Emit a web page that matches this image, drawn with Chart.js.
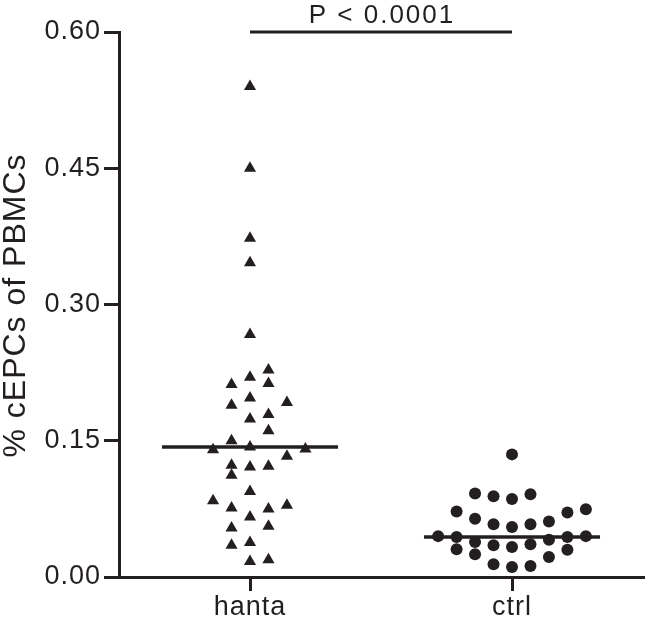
<!DOCTYPE html>
<html>
<head>
<meta charset="utf-8">
<script src="https://cdn.jsdelivr.net/npm/chart.js@4.4.1/dist/chart.umd.min.js"></script>
<style>
  html, body { margin: 0; padding: 0; background: #fff; }
</style>
</head>
<body>
<canvas id="dotChart" width="650" height="620"></canvas>
<script>
// Dot plot — % cEPCs of PBMCs, hanta vs ctrl

const categories = ['hanta', 'ctrl'];
const yTicks = [0, 0.15, 0.30, 0.45, 0.60];

// hanta patients (triangles) and the swarm column each point sits in
const hantaValues = [0.540, 0.450, 0.373, 0.346, 0.267,
  0.228, 0.220, 0.212, 0.213, 0.197, 0.189, 0.192, 0.174, 0.179, 0.161,
  0.150, 0.140, 0.143, 0.141, 0.133, 0.123, 0.121, 0.122, 0.112, 0.094,
  0.084, 0.076, 0.075, 0.079, 0.066, 0.054, 0.056, 0.035, 0.038, 0.017, 0.019];
const hantaSlots = [0, 0, 0, 0, 0,
  1, 0, -1, 1, 0, -1, 2, 0, 1, 1,
  -1, -2, 0, 3, 2, -1, 0, 1, -1, 0,
  -2, -1, 1, 2, 0, -1, 1, -1, 0, 0, 1];

// controls (circles)
const ctrlValues = [0.135, 0.092, 0.089, 0.086, 0.091, 0.072, 0.071, 0.0745,
  0.064, 0.058, 0.055, 0.058, 0.061, 0.045, 0.044, 0.0385, 0.035, 0.033,
  0.036, 0.041, 0.044, 0.045, 0.0305, 0.025, 0.030, 0.022, 0.014, 0.011, 0.012];
const ctrlSlots = [0, -2, -1, 0, 1, -3, 3, 4,
  -2, -1, 0, 1, 2, -4, -3, -2, -1, 0,
  1, 2, 3, 4, -3, -2, 3, 2, -1, 0, 1];

const medians = [0.143, 0.044];
const pLabel = 'P < 0.0001';

const INK = '#231f20';
const SLOT = 0.0705;       // swarm column step, in category units
const MEDIAN_HALF = 0.336; // half length of median bar
const FONT = '"Liberation Sans", Arial, sans-serif';

function toPoints(values, slots, cat) {
  return values.map((v, i) => ({ x: cat + slots[i] * SLOT, y: v }));
}

function medianLine(cat) {
  return [{ x: cat - MEDIAN_HALF, y: medians[cat] }, { x: cat + MEDIAN_HALF, y: medians[cat] }];
}

// slightly loose letter spacing like the original figure
const spacingPlugin = {
  id: 'spacing',
  beforeInit(chart) { chart.ctx.letterSpacing = '1px'; },
  beforeDraw(chart) { chart.ctx.letterSpacing = '1px'; }
};

// y title + significance label
const annotatePlugin = {
  id: 'annotate',
  afterDraw(chart) {
    const ctx = chart.ctx;
    const area = chart.chartArea;
    const x = chart.scales.x;

    ctx.save();
    ctx.fillStyle = INK;
    ctx.font = '32px ' + FONT;
    ctx.letterSpacing = '1px';
    ctx.translate(25, (area.top + area.bottom) / 2 + 1);
    ctx.rotate(-Math.PI / 2);
    ctx.textAlign = 'center';
    ctx.textBaseline = 'alphabetic';
    ctx.fillText('% cEPCs of PBMCs', 0, 0);
    ctx.restore();

    ctx.save();
    ctx.fillStyle = INK;
    ctx.font = '26px ' + FONT;
    ctx.letterSpacing = '2px';
    ctx.textAlign = 'center';
    ctx.textBaseline = 'alphabetic';
    ctx.fillText(pLabel, x.getPixelForValue(0.5) + 1, 23);
    ctx.restore();
  }
};

new Chart(document.getElementById('dotChart'), {
  type: 'scatter',
  data: {
    datasets: [
      {
        label: 'hanta',
        data: toPoints(hantaValues, hantaSlots, 0),
        pointStyle: 'triangle',
        pointRadius: 7,
        backgroundColor: INK,
        borderColor: INK,
        borderWidth: 0
      },
      {
        label: 'ctrl',
        data: toPoints(ctrlValues, ctrlSlots, 1),
        pointStyle: 'circle',
        pointRadius: 6,
        backgroundColor: INK,
        borderColor: INK,
        borderWidth: 0
      },
      {
        label: 'median hanta',
        data: medianLine(0),
        showLine: true,
        pointRadius: 0,
        borderColor: INK,
        borderWidth: 3.5
      },
      {
        label: 'median ctrl',
        data: medianLine(1),
        showLine: true,
        pointRadius: 0,
        borderColor: INK,
        borderWidth: 3.5
      },
      {
        label: 'p bar',
        data: [{ x: 0, y: yTicks[yTicks.length - 1] }, { x: 1, y: yTicks[yTicks.length - 1] }],
        showLine: true,
        pointRadius: 0,
        borderColor: INK,
        borderWidth: 3,
        clip: false
      }
    ]
  },
  options: {
    responsive: false,
    animation: false,
    events: [],
    layout: {
      padding: { top: 32, right: 1, left: 0, bottom: 0 }
    },
    plugins: {
      legend: { display: false },
      tooltip: { enabled: false }
    },
    scales: {
      x: {
        type: 'linear',
        min: -0.5,
        max: 1.5,
        afterBuildTicks(scale) {
          scale.ticks = categories.map((c, i) => ({ value: i }));
        },
        afterFit(scale) { scale.height = 43; },
        border: { display: true, color: INK, width: 3 },
        grid: {
          drawOnChartArea: false,
          color: INK,
          lineWidth: 3,
          tickLength: 14
        },
        ticks: {
          color: INK,
          padding: 0,
          font: { size: 27, family: FONT },
          callback: (v) => categories[v]
        }
      },
      y: {
        min: 0,
        max: 0.6,
        afterBuildTicks(scale) {
          scale.ticks = yTicks.map(v => ({ value: v }));
        },
        afterFit(scale) { scale.width = 119; },
        border: { display: true, color: INK, width: 3 },
        grid: {
          drawOnChartArea: false,
          color: INK,
          lineWidth: 3,
          tickLength: 15
        },
        ticks: {
          color: INK,
          padding: 3,
          font: { size: 27, family: FONT },
          callback: (v) => v.toFixed(2)
        }
      }
    }
  },
  plugins: [spacingPlugin, annotatePlugin]
});
</script>
</body>
</html>
